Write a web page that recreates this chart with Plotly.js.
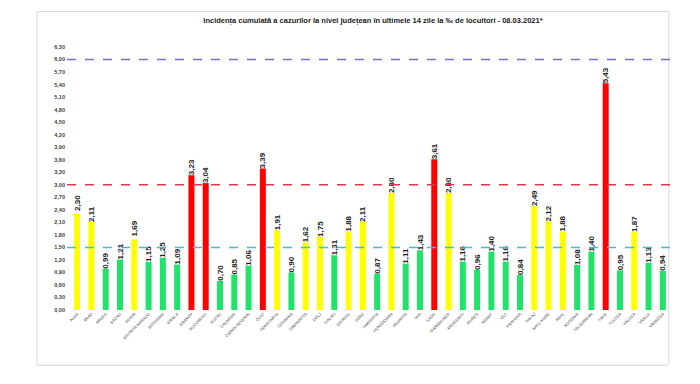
<!DOCTYPE html>
<html>
<head>
<meta charset="utf-8">
<script src="https://cdn.plot.ly/plotly-3.0.1.min.js"></script>
<style>html,body{margin:0;padding:0;background:#fff;}#chart{width:700px;height:384px;}</style>
</head>
<body>
<div id="chart"></div>
<script>
const counties = ["ALBA","ARAD","ARGES","BACAU","BIHOR","BISTRITA-NASAUD","BOTOSANI","BRAILA","BRASOV","BUCURESTI","BUZAU","CALARASI","CARAS-SEVERIN","CLUJ","CONSTANTA","COVASNA","DAMBOVITA","DOLJ","GALATI","GIURGIU","GORJ","HARGHITA","HUNEDOARA","IALOMITA","IASI","ILFOV","MARAMURES","MEHEDINTI","MURES","NEAMT","OLT","PRAHOVA","SALAJ","SATU MARE","SIBIU","SUCEAVA","TELEORMAN","TIMIS","TULCEA","VALCEA","VASLUI","VRANCEA"];
const incidence = [2.30,2.11,0.99,1.21,1.69,1.15,1.25,1.09,3.23,3.04,0.70,0.85,1.06,3.39,1.91,0.90,1.62,1.75,1.31,1.88,2.11,0.87,2.80,1.11,1.43,3.61,2.80,1.16,0.96,1.40,1.16,0.84,2.49,2.12,1.88,1.08,1.40,5.43,0.95,1.87,1.13,0.94];
const thresholds = [1.5, 3.0, 6.0];
const yTicks = [0,0.3,0.6,0.9,1.2,1.5,1.8,2.1,2.4,2.7,3.0,3.3,3.6,3.9,4.2,4.5,4.8,5.1,5.4,5.7,6.0,6.3];

const GREEN = "#22e36a", YELLOW = "#ffff00", RED = "#ff0000";
const colors = incidence.map(v => v > thresholds[1] ? RED : (v >= thresholds[0] ? YELLOW : GREEN));
const lineColors = ["#45b9e0", "#e0354a", "#7a6cc8"];

const valueFont = {family: "Liberation Sans Narrow, Liberation Sans, Arial", size: 8, color: "#262626", weight: "bold"};
const trace = {
  type: "bar",
  x: counties,
  y: incidence,
  marker: {color: colors},
  text: incidence.map(v => v.toFixed(2).replace(".", ",")),
  textposition: "outside",
  textangle: -90,
  constraintext: "none",
  cliponaxis: false,
  textfont: valueFont,
  outsidetextfont: valueFont,
  hoverinfo: "x+y"
};

const shapes = thresholds.map((t, i) => ({
  type: "line", xref: "paper", yref: "y",
  x0: -0.005, x1: 1.0, y0: t, y1: t,
  line: {color: lineColors[i], width: 1.5, dash: "dash"},
  layer: "above"
}));
shapes.push({
  type: "rect", xref: "paper", yref: "paper",
  x0: -0.055, x1: 0.998, y0: -0.21, y1: 1.135,
  line: {color: "#d9d9d9", width: 1},
  fillcolor: "rgba(0,0,0,0)",
  layer: "below"
});

const layout = {
  width: 700, height: 384,
  margin: {l: 70, r: 30, t: 47, b: 74},
  paper_bgcolor: "#ffffff",
  plot_bgcolor: "#ffffff",
  separators: ", ",
  showlegend: false,
  bargap: 0.58,
  uniformtext: {mode: false},
  title: {
    text: "<b>Incidența cumulată a cazurilor la nivel județean în ultimele 14 zile la ‰ de locuitori - 08.03.2021*</b>",
    font: {family: "Liberation Sans Narrow, Liberation Sans, Arial", size: 7.5, color: "#1a1a1a"},
    x: 0.505, xref: "paper", xanchor: "center",
    y: 0.948, yanchor: "middle"
  },
  xaxis: {
    type: "category",
    tickangle: -45,
    tickfont: {family: "Liberation Sans, Arial", size: 4, color: "#404040"},
    showgrid: false, zeroline: false, showline: false,
    ticks: "", automargin: false
  },
  yaxis: {
    range: [0, 6.3],
    tickvals: yTicks,
    ticktext: yTicks.map(v => v.toFixed(2).replace(".", ",")),
    tickfont: {family: "Liberation Sans, Arial", size: 5.5, color: "#404040", weight: "bold"},
    showgrid: false, zeroline: false, showline: false,
    ticks: "", ticklabelstandoff: 4, automargin: false
  },
  shapes: shapes
};

Plotly.newPlot("chart", [trace], layout, {displayModeBar: false, staticPlot: true});
</script>
</body>
</html>
